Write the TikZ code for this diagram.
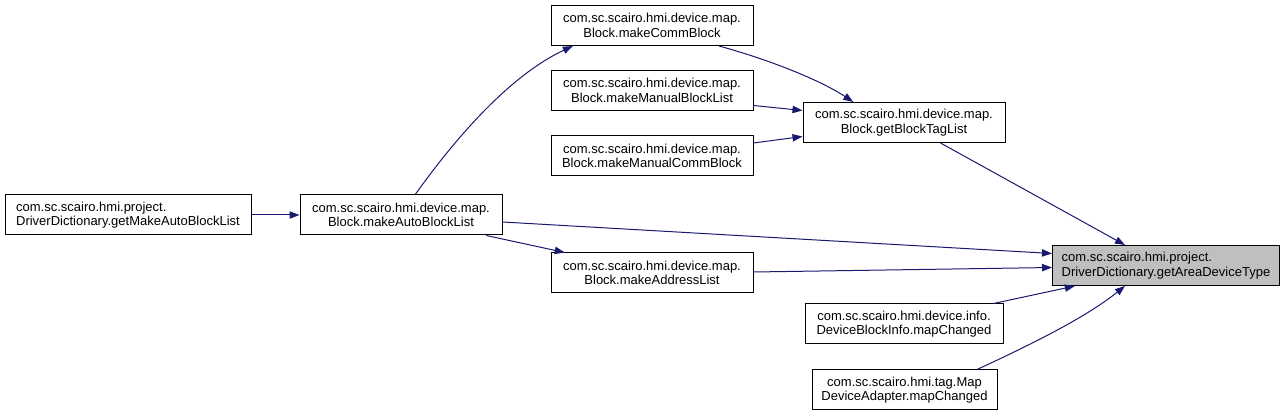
\documentclass[tikz,border=0pt]{standalone}
\usepackage{fontspec}
\setmainfont{Liberation Sans}
\usetikzlibrary{arrows.meta,calc}
\definecolor{edgeblue}{HTML}{191970}
\definecolor{hilite}{HTML}{BFBFBF}
\begin{document}
\begin{tikzpicture}[x=0.75pt,y=-0.75pt,
  fnbox/.style={draw=black,line width=0.75pt,fill=white,inner sep=0pt,
    font=\fontsize{9.75pt}{10.9pt}\selectfont,align=center,
    minimum width=#1*0.75pt,minimum height=30pt},
  fnbox/.default=202,
  leftbox/.style={fnbox=#1,align=left},
  call/.style={draw=edgeblue,line width=0.75pt,
    -{Triangle[length=7.5pt,width=5.5pt]},color=edgeblue}]
\useasboundingbox (0,0) rectangle (1285,416);
\node[fnbox] (comm) at (652,25.5) {com.sc.scairo.hmi.device.map.\\Block.makeCommBlock};
\node[fnbox] (mbl) at (652,90.5) {com.sc.scairo.hmi.device.map.\\Block.makeManualBlockList};
\node[fnbox] (mcb) at (652,156) {com.sc.scairo.hmi.device.map.\\Block.makeManualCommBlock};
\node[fnbox] (gbt) at (904,122.5) {com.sc.scairo.hmi.device.map.\\Block.getBlockTagList};
\node[leftbox=246] (gmab) at (128,215) {com.sc.scairo.hmi.project.\\DriverDictionary.getMakeAutoBlockList};
\node[fnbox] (mab) at (401,215) {com.sc.scairo.hmi.device.map.\\Block.makeAutoBlockList};
\node[fnbox] (mal) at (652,273) {com.sc.scairo.hmi.device.map.\\Block.makeAddressList};
\node[leftbox=227,fill=hilite] (gadt) at (1166,265.5) {com.sc.scairo.hmi.project.\\DriverDictionary.getAreaDeviceType};
\node[fnbox=198] (dbi) at (904,324) {com.sc.scairo.hmi.device.info.\\DeviceBlockInfo.mapChanged};
\node[fnbox=185] (mda) at (904.5,390) {com.sc.scairo.hmi.tag.Map\\DeviceAdapter.mapChanged};

\draw[call] (gmab.east) -- (mab.west);
\draw[call] ($(mab.north west)!0.57!(mab.north east)$) .. controls (440,160) and (500,80) .. ($(comm.south west)!0.11!(comm.south east)$);
\draw[call] ($(comm.south west)!0.83!(comm.south east)$) .. controls (770,60) and (820,80) .. ($(gbt.north west)!0.25!(gbt.north east)$);
\draw[call] ($(mbl.east)+(0,15)$) -- ($(gbt.west)+(0,-12)$);
\draw[call] ($(mcb.east)+(0,-13)$) -- ($(gbt.west)+(0,14)$);
\draw[call] ($(gbt.south west)!0.68!(gbt.south east)$) -- ($(gadt.north west)!0.32!(gadt.north east)$);
\draw[call] ($(mab.east)+(0,7)$) -- ($(gadt.west)+(0,-12)$);
\draw[call] ($(mab.south west)!0.92!(mab.south east)$) -- ($(mal.north west)!0.07!(mal.north east)$);
\draw[call] ($(mal.east)+(0,-1)$) -- ($(gadt.west)+(0,2)$);
\draw[call] ($(dbi.north west)!0.95!(dbi.north east)$) -- ($(gadt.south west)!0.1!(gadt.south east)$);
\draw[call] ($(mda.north west)!0.89!(mda.north east)$) .. controls (1030,345) and (1085,318) .. ($(gadt.south west)!0.32!(gadt.south east)$);
\end{tikzpicture}
\end{document}
